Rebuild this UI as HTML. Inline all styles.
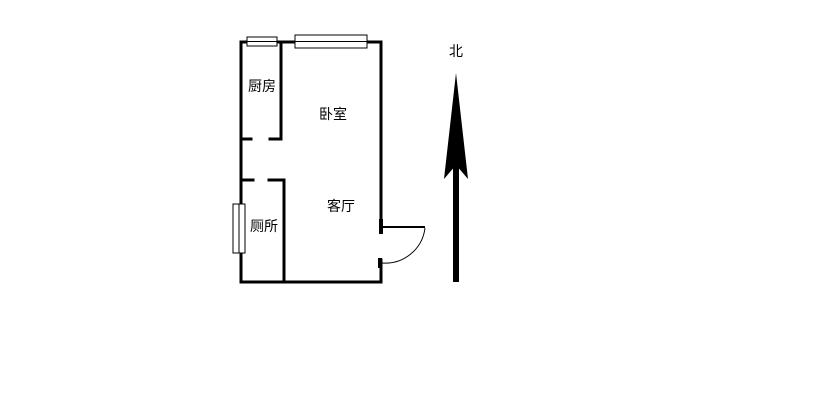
<!DOCTYPE html>
<html><head><meta charset="utf-8"><style>
html,body{margin:0;padding:0;background:#fff;width:814px;height:419px;overflow:hidden}
svg{display:block}
text{font-family:"Liberation Sans","Noto Sans CJK SC",sans-serif;font-size:14px;fill:#000}
</style></head><body>
<svg width="814" height="419" viewBox="0 0 814 419">
<g stroke="#000" stroke-width="3" fill="none" stroke-linecap="square">
<path d="M241,42 L381,42 L381,227"/>
<path d="M241,42 L241,282 L381,282 L381,260"/>
<path d="M281,42 L281,139 L270,139"/>
<path d="M241,139 L251,139"/>
<path d="M241,180 L253,180"/>
<path d="M269,180 L284,180 L284,282"/>
</g>
<rect x="379" y="219" width="4" height="15" fill="#000"/>
<rect x="378" y="258" width="4" height="10" fill="#000"/>
<line x1="381" y1="227" x2="425" y2="227" stroke="#000" stroke-width="2"/>
<path d="M425,228 A40,40 0 0 1 382,263" stroke="#000" stroke-width="1" fill="none"/>
<rect x="247" y="37" width="30" height="9" fill="#fff" stroke="#000" stroke-width="1"/>
<line x1="247" y1="41.5" x2="277" y2="41.5" stroke="#000" stroke-width="1"/>
<rect x="295" y="35" width="72" height="13" fill="#fff" stroke="#000" stroke-width="1"/>
<line x1="295" y1="41.5" x2="367" y2="41.5" stroke="#000" stroke-width="1"/>
<rect x="233" y="204" width="12" height="49" fill="#fff" stroke="#000" stroke-width="1"/>
<line x1="239" y1="204" x2="239" y2="253" stroke="#000" stroke-width="1"/>
<polygon points="456,73 468,179 456,165 444,179" fill="#000"/>
<rect x="453" y="165" width="6" height="117" fill="#000"/>
<text x="456" y="56" text-anchor="middle">北</text>
<text x="262" y="91" text-anchor="middle">厨房</text>
<text x="333" y="119" text-anchor="middle">卧室</text>
<text x="341" y="211" text-anchor="middle">客厅</text>
<text x="264" y="231" text-anchor="middle">厕所</text>
</svg>
</body></html>
